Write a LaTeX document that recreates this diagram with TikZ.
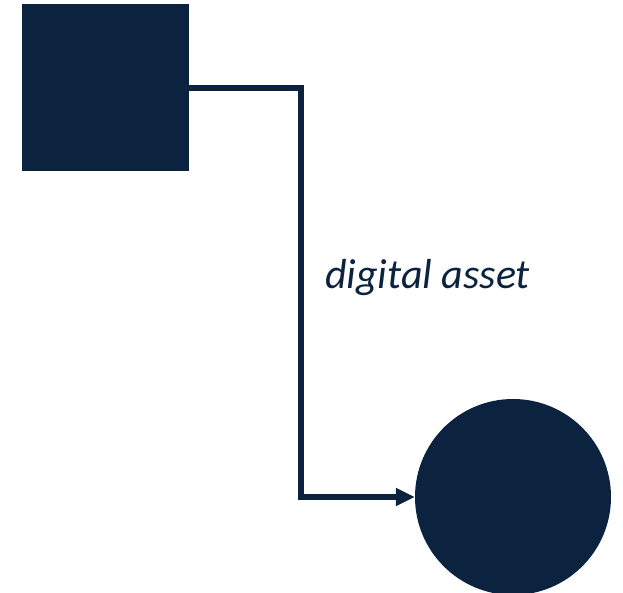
\documentclass[tikz,border=0pt]{standalone}
\usepackage{fontspec}
\setmainfont{Carlito}
\usetikzlibrary{arrows.meta}
\definecolor{navy}{RGB}{12,35,64}
\begin{document}
\begin{tikzpicture}[
    x=1pt, y=-1pt,
    holder/.style={rectangle, fill=navy, inner sep=0pt, minimum size=167pt},
    target/.style={circle, fill=navy, inner sep=0pt, minimum size=196pt},
    link/.style={draw=navy, line width=6pt, -{Triangle[length=19pt, width=17pt]}},
    label/.style={text=navy, font=\fontsize{42}{50}\selectfont\itshape, inner sep=0pt, anchor=base west}
]
    \useasboundingbox (0,0) rectangle (623,593);

    \node[holder] (owner) at (105.5,88) {};
    \node[target] (asset) at (513,497) {};
    \coordinate (bend) at (301,497);

    \draw[link] (owner.east) -| (bend) -- (asset.west);

    \node[label] (name) at (325,289) {digital asset};
\end{tikzpicture}
\end{document}
